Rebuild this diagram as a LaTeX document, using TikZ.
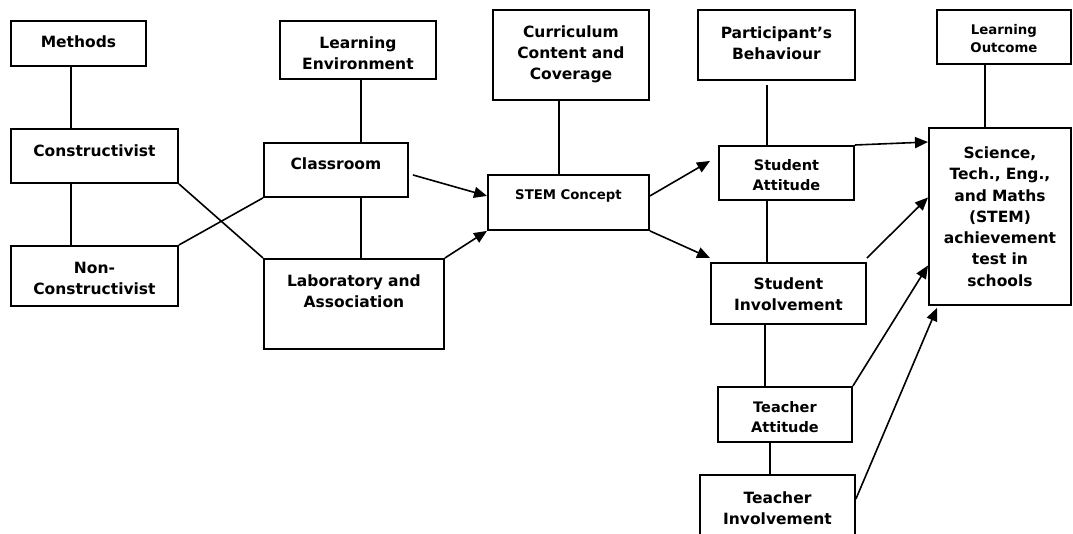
\documentclass[tikz,border=0pt]{standalone}
\usepackage{fontspec}
\setmainfont{DejaVu Sans}
\usetikzlibrary{arrows.meta,positioning}
\tikzset{
block/.style={
  draw,
  line width=1.9pt,
  anchor=north west,
  inner sep=0pt,
  align=center,
  font=\bfseries\fontsize{15.5}{21}\selectfont,
  text height=27.5pt},
small/.style={font=\bfseries\fontsize{13.3}{18}\selectfont, text height=25pt},
mid/.style={font=\bfseries\fontsize{14.5}{19.5}\selectfont, text height=25pt},
line/.style={draw, line width=1.6pt, -{Triangle[length=13pt,width=11pt]}},
edge/.style={draw, line width=1.6pt}
}
\begin{document}
\begin{tikzpicture}[x=1pt,y=-1pt]
    \useasboundingbox (0,0) rectangle (1073,533);
    % left part
    \node [block, text width=135pt, text height=26.5pt, text depth=18.5pt] (methods) at (10,20) {Methods};
    \node [block, text width=167pt, text depth=26.5pt] (constr) at (10,128) {Constructivist};
    \node [block, text width=167pt, text depth=32.5pt] (noncon) at (10,245) {Non-\\Constructivist};
    \node [block, text width=156pt, text depth=30.5pt] (learnenv) at (279,20) {Learning\\Environment};
    \node [block, text width=144pt, text height=26.5pt, text depth=27.5pt] (classroom) at (263,142) {Classroom};
    \node [block, text width=180pt, text depth=62.5pt] (lab) at (263,258) {Laboratory and\\Association};
    % middle
    \node [block, text width=156pt, text depth=62.5pt] (curric) at (492,9) {Curriculum\\Content and\\Coverage};
    \node [block, small, text width=161pt, text depth=30pt] (stem) at (487,174) {STEM Concept};
    \node [block, text width=157pt, text height=28.5pt, text depth=41.5pt] (partic) at (697,9) {Participant’s\\Behaviour};
    \node [block, mid, text width=135pt, text depth=29pt] (sattit) at (718,145) {Student\\Attitude};
    \node [block, text width=155pt, text height=26.5pt, text depth=34.5pt] (sinv) at (710,262) {Student\\Involvement};
    \node [block, mid, text width=134pt, text height=26pt, text depth=29pt] (tattit) at (717,386) {Teacher\\Attitude};
    \node [block, text width=155pt, text height=28.5pt, text depth=41.5pt] (tinv) at (699,474) {Teacher\\Involvement};
    % right part
    \node [block, small, text width=134pt, text depth=29pt] (lout) at (936,9) {Learning\\Outcome};
    \node [block, font=\bfseries\fontsize{15.5}{21.3}\selectfont, text width=142pt, text height=30.5pt, text depth=146.5pt] (stemtest) at (928,127)
      {Science,\\Tech., Eng.,\\and Maths\\(STEM)\\achievement\\test in\\schools};
    % plain links
    \path [edge] ([xshift=-7.5pt]methods.south) -- ([xshift=-7.5pt]methods.south |- constr.north);
    \path [edge] ([xshift=-23.5pt]constr.south) -- ([xshift=-23.5pt]constr.south |- noncon.north);
    \path [edge] (constr.south east) -- (lab.north west);
    \path [edge] (noncon.north east) -- (classroom.south west);
    \path [edge] ([xshift=3pt]learnenv.south) -- ([xshift=3pt]learnenv.south |- classroom.north);
    \path [edge] ([xshift=25pt]classroom.south) -- ([xshift=25pt]classroom.south |- lab.north);
    \path [edge] ([xshift=-12pt]curric.south) -- ([xshift=-12pt]curric.south |- stem.north);
    \path [edge] ([shift={(-9.5pt,-4pt)}]partic.south) -- ([xshift=-9.5pt]partic.south |- sattit.north);
    \path [edge] ([xshift=-19.5pt]sattit.south) -- ([xshift=-19.5pt]sattit.south |- sinv.north);
    \path [edge] ([xshift=-23.5pt]sinv.south) -- ([xshift=-23.5pt]sinv.south |- tattit.north);
    \path [edge] ([xshift=-15pt]tattit.south) -- ([xshift=-15pt]tattit.south |- tinv.north);
    \path [edge] ([xshift=-19pt]lout.south) -- ([xshift=-19pt]lout.south |- stemtest.north);
    % arrows
    \path [line] ([shift={(4pt,-5pt)}]classroom.east) -- ([yshift=6.5pt]stem.west);
    \path [line] (lab.north east) -- (stem.south west);
    \path [line] ([yshift=6.5pt]stem.east) -- ([shift={(-8pt,12pt)}]sattit.west);
    \path [line] (stem.south east) -- ([yshift=4pt]sinv.north west);
    \path [line] (sattit.north east) -- ([yshift=-15pt]stemtest.north west);
    \path [line] ([yshift=4pt]sinv.north east) -- ([yshift=19pt]stemtest.west);
    \path [line] (tattit.north east) -- ([yshift=-49pt]stemtest.west);
    \path [line] ([yshift=11pt]tinv.east) -- ([shift={(9pt,-2pt)}]stemtest.south west);
\end{tikzpicture}
\end{document}
